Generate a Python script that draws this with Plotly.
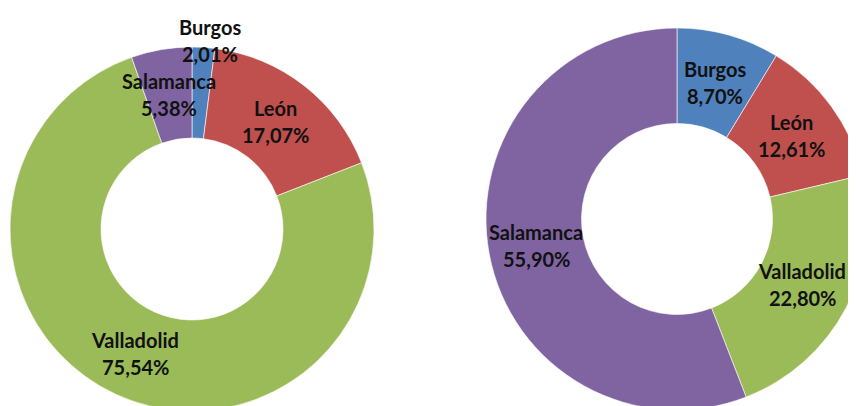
import math
import plotly.graph_objects as go

provinces = ["Burgos", "León", "Valladolid", "Salamanca"]
left_share = [2.01, 17.07, 75.54, 5.38]
right_share = [8.70, 12.61, 22.80, 55.90]
colors = ["#4F81BD", "#C0504D", "#9BBB59", "#8064A2"]

# figure is slightly larger than the window so the rings can be cropped as in the reference
W, H = 870, 414
HOLE = 0.5
OFF = 8  # page body margin

# (center x, center y from top, outer radius, label radius factors, label x nudges, values)
rings = [
    (192 - OFF, 229 - OFF, 182, [1.04, 0.75, 0.75, 0.75], [6, 0, 0, 0], left_share),
    (677 - OFF, 219 - OFF, 191, [0.74, 0.74, 0.74, 0.75], [0, 0, 0, 0], right_share),
]

fig = go.Figure()
annotations = []
font_family = "Lato, 'Open Sans', sans-serif"

for cx, cy, r, rf, nudges, vals in rings:
    dom_x = [(cx - r) / W, (cx + r) / W]
    dom_y = [(H - (cy + r)) / H, (H - (cy - r)) / H]
    fig.add_trace(go.Pie(
        labels=provinces, values=vals, sort=False, direction="clockwise",
        rotation=0, hole=HOLE, textinfo="none", hoverinfo="label+percent",
        marker=dict(colors=colors, line=dict(color="white", width=0.6)),
        domain=dict(x=dom_x, y=dom_y), showlegend=False,
    ))
    total = sum(vals)
    cum = 0.0
    for name, v, f, nx in zip(provinces, vals, rf, nudges):
        mid = (cum + v / 2) / total * 2 * math.pi
        cum += v
        px = cx + r * f * math.sin(mid) + nx
        py = cy - r * f * math.cos(mid)
        txt = f"{v:.2f}".replace(".", ",") + "%"
        for line, shift in ((name, 13.5), (txt, -13.5)):
            annotations.append(dict(
                x=px / W, y=(H - py) / H, xref="paper", yref="paper",
                text=f"<b>{line}</b>", showarrow=False, yshift=shift,
                font=dict(family=font_family, size=20, color="#111111"),
                xanchor="center", yanchor="middle",
            ))

fig.update_layout(
    width=W, height=H, margin=dict(l=0, r=0, t=0, b=0),
    paper_bgcolor="white", plot_bgcolor="white",
    annotations=annotations,
)
fig.write_html("out.html")
